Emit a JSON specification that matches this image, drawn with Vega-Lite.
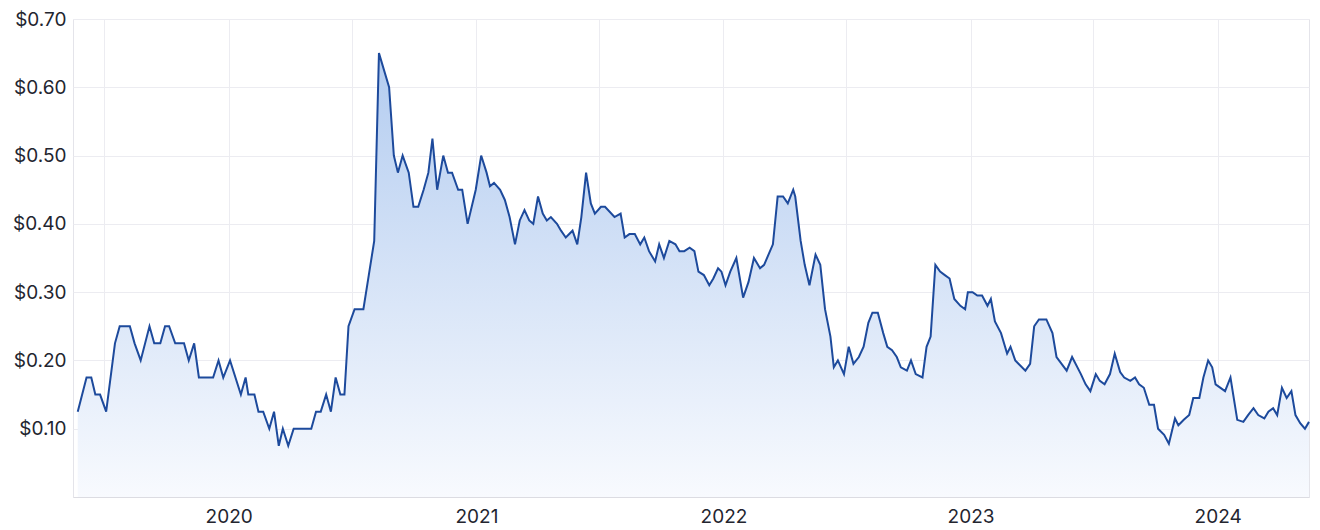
{
  "$schema": "https://vega.github.io/schema/vega-lite/v6.json",
  "width": 1236,
  "height": 478,
  "autosize": {"type": "none"},
  "padding": {"left": 73, "top": 19, "right": 11, "bottom": 33},
  "background": "#ffffff",
  "config": {
    "view": {"stroke": "#e4e4ea", "strokeWidth": 1},
    "font": "Inter",
    "axis": {
      "gridColor": "#ececf1",
      "gridWidth": 1,
      "labelColor": "#23252f",
      "labelFont": "Inter",
      "labelFontSize": 19,
      "ticks": false,
      "tickSize": 0,
      "title": null
    }
  },
  "data": {
    "values": [
      {"date": "2019-05-23", "price": 0.125},
      {"date": "2019-06-05", "price": 0.175},
      {"date": "2019-06-12", "price": 0.175},
      {"date": "2019-06-18", "price": 0.15},
      {"date": "2019-06-25", "price": 0.15},
      {"date": "2019-07-04", "price": 0.125},
      {"date": "2019-07-17", "price": 0.225},
      {"date": "2019-07-24", "price": 0.25},
      {"date": "2019-08-08", "price": 0.25},
      {"date": "2019-08-15", "price": 0.225},
      {"date": "2019-08-24", "price": 0.2},
      {"date": "2019-09-06", "price": 0.25},
      {"date": "2019-09-13", "price": 0.225},
      {"date": "2019-09-22", "price": 0.225},
      {"date": "2019-09-29", "price": 0.25},
      {"date": "2019-10-05", "price": 0.25},
      {"date": "2019-10-14", "price": 0.225},
      {"date": "2019-10-27", "price": 0.225},
      {"date": "2019-11-03", "price": 0.2},
      {"date": "2019-11-11", "price": 0.225},
      {"date": "2019-11-18", "price": 0.175},
      {"date": "2019-12-09", "price": 0.175},
      {"date": "2019-12-17", "price": 0.2},
      {"date": "2019-12-24", "price": 0.175},
      {"date": "2020-01-03", "price": 0.2},
      {"date": "2020-01-19", "price": 0.15},
      {"date": "2020-01-26", "price": 0.175},
      {"date": "2020-01-30", "price": 0.15},
      {"date": "2020-02-08", "price": 0.15},
      {"date": "2020-02-14", "price": 0.125},
      {"date": "2020-02-21", "price": 0.125},
      {"date": "2020-03-01", "price": 0.1},
      {"date": "2020-03-08", "price": 0.125},
      {"date": "2020-03-15", "price": 0.075},
      {"date": "2020-03-21", "price": 0.1},
      {"date": "2020-03-29", "price": 0.075},
      {"date": "2020-04-06", "price": 0.1},
      {"date": "2020-05-02", "price": 0.1},
      {"date": "2020-05-09", "price": 0.125},
      {"date": "2020-05-16", "price": 0.125},
      {"date": "2020-05-24", "price": 0.15},
      {"date": "2020-05-31", "price": 0.125},
      {"date": "2020-06-07", "price": 0.175},
      {"date": "2020-06-14", "price": 0.15},
      {"date": "2020-06-20", "price": 0.15},
      {"date": "2020-06-26", "price": 0.25},
      {"date": "2020-07-05", "price": 0.275},
      {"date": "2020-07-18", "price": 0.275},
      {"date": "2020-07-26", "price": 0.325},
      {"date": "2020-08-03", "price": 0.375},
      {"date": "2020-08-10", "price": 0.65},
      {"date": "2020-08-25", "price": 0.6},
      {"date": "2020-09-01", "price": 0.5},
      {"date": "2020-09-07", "price": 0.475},
      {"date": "2020-09-14", "price": 0.5},
      {"date": "2020-09-23", "price": 0.475},
      {"date": "2020-09-30", "price": 0.425},
      {"date": "2020-10-07", "price": 0.425},
      {"date": "2020-10-15", "price": 0.45},
      {"date": "2020-10-22", "price": 0.475},
      {"date": "2020-10-28", "price": 0.525},
      {"date": "2020-11-04", "price": 0.45},
      {"date": "2020-11-13", "price": 0.5},
      {"date": "2020-11-20", "price": 0.475},
      {"date": "2020-11-26", "price": 0.475},
      {"date": "2020-12-05", "price": 0.45},
      {"date": "2020-12-11", "price": 0.45},
      {"date": "2020-12-19", "price": 0.4},
      {"date": "2020-12-31", "price": 0.45},
      {"date": "2021-01-08", "price": 0.5},
      {"date": "2021-01-16", "price": 0.475},
      {"date": "2021-01-21", "price": 0.455},
      {"date": "2021-01-27", "price": 0.46},
      {"date": "2021-02-05", "price": 0.45},
      {"date": "2021-02-12", "price": 0.435},
      {"date": "2021-02-19", "price": 0.41},
      {"date": "2021-02-27", "price": 0.37},
      {"date": "2021-03-06", "price": 0.405},
      {"date": "2021-03-13", "price": 0.42},
      {"date": "2021-03-20", "price": 0.405},
      {"date": "2021-03-26", "price": 0.4},
      {"date": "2021-04-02", "price": 0.44},
      {"date": "2021-04-09", "price": 0.415},
      {"date": "2021-04-15", "price": 0.405},
      {"date": "2021-04-21", "price": 0.41},
      {"date": "2021-04-30", "price": 0.4},
      {"date": "2021-05-06", "price": 0.39},
      {"date": "2021-05-13", "price": 0.38},
      {"date": "2021-05-23", "price": 0.39},
      {"date": "2021-05-30", "price": 0.37},
      {"date": "2021-06-05", "price": 0.41},
      {"date": "2021-06-12", "price": 0.475},
      {"date": "2021-06-19", "price": 0.43},
      {"date": "2021-06-25", "price": 0.415},
      {"date": "2021-07-04", "price": 0.425},
      {"date": "2021-07-10", "price": 0.425},
      {"date": "2021-07-24", "price": 0.41},
      {"date": "2021-08-02", "price": 0.415},
      {"date": "2021-08-08", "price": 0.38},
      {"date": "2021-08-15", "price": 0.385},
      {"date": "2021-08-23", "price": 0.385},
      {"date": "2021-08-31", "price": 0.37},
      {"date": "2021-09-06", "price": 0.38},
      {"date": "2021-09-13", "price": 0.36},
      {"date": "2021-09-22", "price": 0.345},
      {"date": "2021-09-28", "price": 0.37},
      {"date": "2021-10-05", "price": 0.35},
      {"date": "2021-10-13", "price": 0.375},
      {"date": "2021-10-22", "price": 0.37},
      {"date": "2021-10-28", "price": 0.36},
      {"date": "2021-11-04", "price": 0.36},
      {"date": "2021-11-12", "price": 0.365},
      {"date": "2021-11-19", "price": 0.36},
      {"date": "2021-11-25", "price": 0.33},
      {"date": "2021-12-03", "price": 0.325},
      {"date": "2021-12-11", "price": 0.31},
      {"date": "2021-12-17", "price": 0.32},
      {"date": "2021-12-24", "price": 0.335},
      {"date": "2021-12-29", "price": 0.33},
      {"date": "2022-01-04", "price": 0.31},
      {"date": "2022-01-11", "price": 0.33},
      {"date": "2022-01-20", "price": 0.35},
      {"date": "2022-01-30", "price": 0.292},
      {"date": "2022-02-07", "price": 0.315},
      {"date": "2022-02-15", "price": 0.35},
      {"date": "2022-02-24", "price": 0.335},
      {"date": "2022-03-02", "price": 0.34},
      {"date": "2022-03-15", "price": 0.37},
      {"date": "2022-03-22", "price": 0.44},
      {"date": "2022-03-30", "price": 0.44},
      {"date": "2022-04-06", "price": 0.43},
      {"date": "2022-04-14", "price": 0.45},
      {"date": "2022-04-17", "price": 0.44},
      {"date": "2022-04-25", "price": 0.375},
      {"date": "2022-05-01", "price": 0.34},
      {"date": "2022-05-08", "price": 0.31},
      {"date": "2022-05-17", "price": 0.355},
      {"date": "2022-05-24", "price": 0.34},
      {"date": "2022-05-31", "price": 0.275},
      {"date": "2022-06-08", "price": 0.235},
      {"date": "2022-06-13", "price": 0.19},
      {"date": "2022-06-19", "price": 0.2},
      {"date": "2022-06-28", "price": 0.18},
      {"date": "2022-07-05", "price": 0.22},
      {"date": "2022-07-12", "price": 0.195},
      {"date": "2022-07-20", "price": 0.205},
      {"date": "2022-07-27", "price": 0.22},
      {"date": "2022-08-03", "price": 0.255},
      {"date": "2022-08-09", "price": 0.27},
      {"date": "2022-08-17", "price": 0.27},
      {"date": "2022-08-25", "price": 0.24},
      {"date": "2022-08-31", "price": 0.22},
      {"date": "2022-09-07", "price": 0.215},
      {"date": "2022-09-14", "price": 0.205},
      {"date": "2022-09-20", "price": 0.19},
      {"date": "2022-09-29", "price": 0.185},
      {"date": "2022-10-05", "price": 0.2},
      {"date": "2022-10-12", "price": 0.18},
      {"date": "2022-10-22", "price": 0.175},
      {"date": "2022-10-28", "price": 0.22},
      {"date": "2022-11-03", "price": 0.235},
      {"date": "2022-11-10", "price": 0.34},
      {"date": "2022-11-17", "price": 0.33},
      {"date": "2022-11-24", "price": 0.325},
      {"date": "2022-12-01", "price": 0.32},
      {"date": "2022-12-08", "price": 0.29},
      {"date": "2022-12-17", "price": 0.28},
      {"date": "2022-12-24", "price": 0.275},
      {"date": "2022-12-28", "price": 0.3},
      {"date": "2023-01-04", "price": 0.3},
      {"date": "2023-01-11", "price": 0.295},
      {"date": "2023-01-18", "price": 0.295},
      {"date": "2023-01-26", "price": 0.28},
      {"date": "2023-01-31", "price": 0.29},
      {"date": "2023-02-06", "price": 0.257},
      {"date": "2023-02-15", "price": 0.24},
      {"date": "2023-02-24", "price": 0.21},
      {"date": "2023-03-01", "price": 0.22},
      {"date": "2023-03-08", "price": 0.2},
      {"date": "2023-03-23", "price": 0.185},
      {"date": "2023-03-30", "price": 0.195},
      {"date": "2023-04-05", "price": 0.25},
      {"date": "2023-04-12", "price": 0.26},
      {"date": "2023-04-23", "price": 0.26},
      {"date": "2023-05-02", "price": 0.24},
      {"date": "2023-05-08", "price": 0.205},
      {"date": "2023-05-23", "price": 0.185},
      {"date": "2023-05-31", "price": 0.205},
      {"date": "2023-06-13", "price": 0.18},
      {"date": "2023-06-20", "price": 0.165},
      {"date": "2023-06-27", "price": 0.155},
      {"date": "2023-07-05", "price": 0.18},
      {"date": "2023-07-11", "price": 0.17},
      {"date": "2023-07-18", "price": 0.165},
      {"date": "2023-07-26", "price": 0.18},
      {"date": "2023-08-02", "price": 0.21},
      {"date": "2023-08-10", "price": 0.183},
      {"date": "2023-08-16", "price": 0.175},
      {"date": "2023-08-25", "price": 0.17},
      {"date": "2023-09-01", "price": 0.175},
      {"date": "2023-09-07", "price": 0.165},
      {"date": "2023-09-14", "price": 0.16},
      {"date": "2023-09-22", "price": 0.135},
      {"date": "2023-09-29", "price": 0.135},
      {"date": "2023-10-05", "price": 0.1},
      {"date": "2023-10-14", "price": 0.091},
      {"date": "2023-10-21", "price": 0.078},
      {"date": "2023-10-30", "price": 0.115},
      {"date": "2023-11-04", "price": 0.105},
      {"date": "2023-11-12", "price": 0.113},
      {"date": "2023-11-20", "price": 0.12},
      {"date": "2023-11-26", "price": 0.145},
      {"date": "2023-12-05", "price": 0.145},
      {"date": "2023-12-11", "price": 0.175},
      {"date": "2023-12-18", "price": 0.2},
      {"date": "2023-12-24", "price": 0.19},
      {"date": "2023-12-29", "price": 0.165},
      {"date": "2024-01-12", "price": 0.155},
      {"date": "2024-01-20", "price": 0.175},
      {"date": "2024-01-30", "price": 0.113},
      {"date": "2024-02-08", "price": 0.11},
      {"date": "2024-02-15", "price": 0.12},
      {"date": "2024-02-23", "price": 0.13},
      {"date": "2024-03-01", "price": 0.12},
      {"date": "2024-03-10", "price": 0.115},
      {"date": "2024-03-16", "price": 0.125},
      {"date": "2024-03-23", "price": 0.13},
      {"date": "2024-03-29", "price": 0.12},
      {"date": "2024-04-05", "price": 0.16},
      {"date": "2024-04-12", "price": 0.145},
      {"date": "2024-04-19", "price": 0.155},
      {"date": "2024-04-25", "price": 0.12},
      {"date": "2024-05-02", "price": 0.108},
      {"date": "2024-05-09", "price": 0.1},
      {"date": "2024-05-15", "price": 0.11}
    ]
  },
  "encoding": {
    "x": {
      "field": "date",
      "type": "temporal",
      "scale": {"domain": ["2019-05-16", "2024-05-15"], "nice": false},
      "axis": {
        "tickCount": {"interval": "month", "step": 6},
        "labelExpr": "month(datum.value) == 0 ? timeFormat(datum.value, '%Y') : ''",
        "labelPadding": 10,
        "domainColor": "#dcdce2",
        "labelFlush": false,
        "labelOverlap": false
      }
    },
    "y": {
      "field": "price",
      "type": "quantitative",
      "scale": {"domain": [0, 0.7], "nice": false, "zero": true},
      "axis": {
        "values": [0.1, 0.2, 0.3, 0.4, 0.5, 0.6, 0.7],
        "format": "$.2f",
        "labelPadding": 7,
        "domain": false
      }
    }
  },
  "layer": [
    {
      "mark": {
        "type": "area",
        "color": {
          "x1": 0, "y1": 0, "x2": 0, "y2": 1,
          "gradient": "linear",
          "stops": [
            {"offset": 0, "color": "#b3ccf0"},
            {"offset": 1, "color": "#f8fafe"}
          ]
        }
      }
    },
    {
      "mark": {"type": "line", "color": "#1d4a9c", "strokeWidth": 2, "strokeJoin": "miter"}
    }
  ]
}
